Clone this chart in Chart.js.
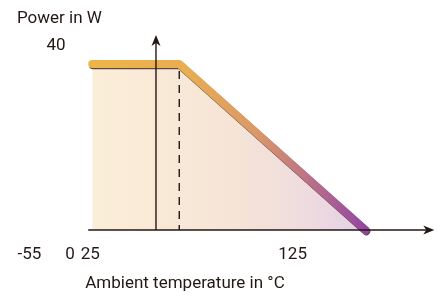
<!DOCTYPE html>
<html lang="en">
<head>
<meta charset="UTF-8">
<title>Derating</title>
<script src="https://cdnjs.cloudflare.com/ajax/libs/Chart.js/4.4.1/chart.umd.min.js"></script>
<style>
  html, body { margin: 0; padding: 0; background: #fff; }
  #wrap { width: 440px; height: 299px; }
</style>
</head>
<body>
<div id="wrap"><canvas id="myChart" width="440" height="299"></canvas></div>
<script>
  // derating curve (temperature in degC, power in W)
  const curveTemps = [26, 69, 161];
  const curvePower = [40, 40, 0];
  const kneeTemp = 69;
  const yAxisTemp = 57.5;
  const xTickValues = [-55, 0, 25, 125];
  const xTickLabels = ['-55', '0', '25', '125'];
  const yTickValues = [40];
  const yTickLabels = ['40'];
  const yTitle = 'Power in W';
  const xTitle = 'Ambient temperature in \u00b0C';

  const FONT = '17px Roboto, "Liberation Sans", sans-serif';
  const INK = '#231815';

  // schematic axis: tick values sit at fixed fractions of the width
  const stopFrac = [0.067, 0.159, 0.205, 0.665];
  class SchematicScale extends Chart.LinearScale {
    getPixelForValue(v) {
      const w = this.right - this.left;
      const s = xTickValues, f = stopFrac;
      let i = 0;
      while (i < s.length - 2 && v > s[i + 1]) i++;
      const t = (v - s[i]) / (s[i + 1] - s[i]);
      return this.left + w * (f[i] + t * (f[i + 1] - f[i]));
    }
  }
  SchematicScale.id = 'schematic';
  SchematicScale.defaults = {};
  Chart.register(SchematicScale);

  function hGrad(chart, stops) {
    const x = chart.scales.x;
    const g = chart.ctx.createLinearGradient(x.getPixelForValue(curveTemps[0]), 0, x.getPixelForValue(curveTemps[curveTemps.length - 1]), 0);
    stops.forEach(s => g.addColorStop(s[0], s[1]));
    return g;
  }

  const pts = curveTemps.map((t, i) => ({x: t, y: curvePower[i]}));

  const decor = {
    id: 'decor',
    beforeDatasetDraw(chart, args) {
      if (args.index === 1) {
        const c = chart.ctx;
        c.save();
        c.shadowColor = 'rgba(70,40,40,0.85)';
        c.shadowOffsetX = 0.8;
        c.shadowOffsetY = 1.2;
        c.shadowBlur = 0.5;
      }
    },
    afterDatasetDraw(chart, args) {
      const c = chart.ctx, x = chart.scales.x, y = chart.scales.y;
      if (args.index === 1) { c.restore(); return; }
      // dashed knee marker, over the fill and under the band
      const y0 = y.getPixelForValue(0);
      c.save();
      c.strokeStyle = INK;
      c.lineWidth = 1.4;
      c.setLineDash([8, 6]);
      const kx = x.getPixelForValue(kneeTemp);
      c.beginPath();
      c.moveTo(kx, y.getPixelForValue(40) + 7);
      c.lineTo(kx, y0);
      c.stroke();
      c.restore();
    },
    afterDatasetsDraw(chart) {
      const c = chart.ctx, x = chart.scales.x, y = chart.scales.y;
      const y0 = y.getPixelForValue(0);
      const x0 = x.getPixelForValue(curveTemps[0]);
      const xEnd = x.getPixelForValue(195);
      const ax = x.getPixelForValue(yAxisTemp);
      const yTop = y.getPixelForValue(47);
      c.save();
      c.strokeStyle = INK;
      c.fillStyle = INK;
      c.lineWidth = 1.4;
      c.beginPath();
      c.moveTo(x0 - 4, y0);
      c.lineTo(xEnd - 4, y0);
      c.moveTo(ax, y0);
      c.lineTo(ax, yTop + 4);
      c.stroke();
      // arrow heads
      c.beginPath();
      c.moveTo(xEnd, y0);
      c.lineTo(xEnd - 11, y0 - 4.5);
      c.lineTo(xEnd - 8, y0);
      c.lineTo(xEnd - 11, y0 + 4.5);
      c.closePath();
      c.fill();
      c.beginPath();
      c.moveTo(ax, yTop);
      c.lineTo(ax - 4.5, yTop + 11);
      c.lineTo(ax, yTop + 8);
      c.lineTo(ax + 4.5, yTop + 11);
      c.closePath();
      c.fill();
      // texts
      c.font = FONT;
      c.fillStyle = INK;
      c.textBaseline = 'middle';
      c.textAlign = 'center';
      xTickValues.forEach((v, i) => c.fillText(xTickLabels[i], x.getPixelForValue(v), y0 + 25));
      yTickValues.forEach((v, i) => c.fillText(yTickLabels[i], 56, y.getPixelForValue(v) - 18));
      c.fillText(xTitle, 185, y0 + 54);
      c.textAlign = 'left';
      c.fillText(yTitle, 17, 19);
      c.restore();
    }
  };

  new Chart(document.getElementById('myChart'), {
    type: 'line',
    data: {
      datasets: [
        {
          data: pts,
          order: 2,
          borderWidth: 0,
          pointRadius: 0,
          fill: 'origin',
          backgroundColor: ctx => ctx.chart.chartArea ? hGrad(ctx.chart, [[0, '#fbeed8'], [0.5, '#f6e5d6'], [0.8, '#eedbdf'], [1, '#e2cfe6']]) : '#f6e6d8'
        },
        {
          data: pts,
          order: 1,
          borderWidth: 8,
          borderCapStyle: 'round',
          borderJoinStyle: 'round',
          pointRadius: 0,
          fill: false,
          borderColor: ctx => ctx.chart.chartArea ? hGrad(ctx.chart, [[0, '#ecb548'], [0.35, '#e8ad52'], [0.6, '#db9868'], [0.82, '#b66c8c'], [1, '#9446a2']]) : '#e0a060'
        }
      ]
    },
    plugins: [decor],
    options: {
      responsive: false,
      animation: false,
      layout: {padding: 0},
      scales: {
        x: {type: 'schematic', min: -60, max: 200, display: false},
        y: {type: 'linear', min: -16.6, max: 55.4, display: false}
      },
      plugins: {legend: {display: false}, tooltip: {enabled: false}}
    }
  });
</script>
</body>
</html>
